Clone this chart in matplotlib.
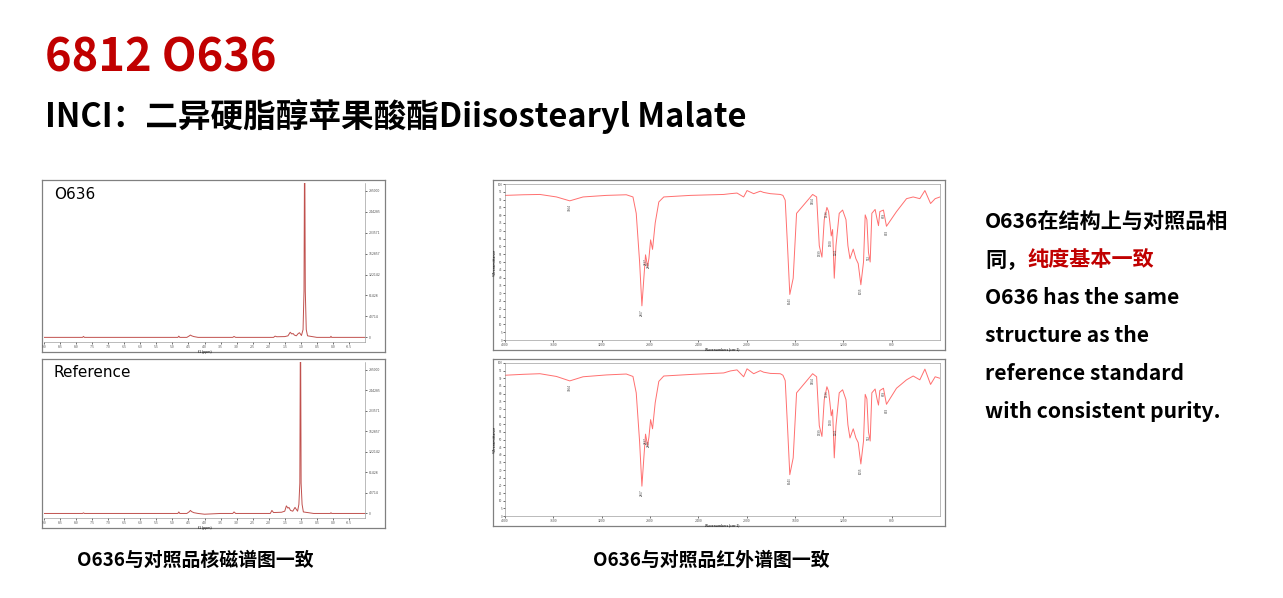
import matplotlib
matplotlib.use("Agg")
import matplotlib.pyplot as plt
import numpy as np

W, H = 1283, 598
FONT = ['Noto Sans CJK SC', 'DejaVu Sans']
plt.rcParams['font.family'] = FONT

title = "6812 O636"
subtitle = "INCI：二异硬脂醇苹果酸酯Diisostearyl Malate"
nmr_caption = "O636与对照品核磁谱图一致"
ir_caption = "O636与对照品红外谱图一致"
right_lines = [("O636在结构上与对照品相", "k"), ("同，", "k"), ("纯度基本一致", "#C00000"),
               ("O636 has the same", "k"), ("structure as the", "k"),
               ("reference standard", "k"), ("with consistent purity.", "k")]

# NMR spectra (ppm, relative intensity)
nmr_sample_ppm = [9.0, 7.80, 7.77, 7.74, 5.0, 4.83, 4.80, 4.77, 4.55, 4.47, 4.44, 4.40, 4.33, 4.2, 3.5, 3.12, 3.08, 3.03, 2.2,
                  1.85, 1.80, 1.75, 1.5, 1.40, 1.33, 1.28, 1.24, 1.20, 1.14, 1.08, 1.04, 0.98, 0.93, 0.90, 0.88, 0.86, 0.83, 0.79, 0.5, 0.08, 0.06, 0.04, -1.0]
nmr_sample_int = [0.0, 0.0, 0.006, 0.0, 0.0, 0.0, 0.008, 0.0, 0.0, 0.01, 0.015, 0.01, 0.005, 0.0, 0.0, 0.0, 0.006, 0.0, 0.0,
                  0.0, 0.008, 0.004, 0.005, 0.01, 0.033, 0.022, 0.025, 0.015, 0.01, 0.025, 0.03, 0.012, 0.05, 0.3, 1.4, 0.3, 0.05, 0.01, 0.0, 0.0, 0.007, 0.0, 0.0]
nmr_ref_ppm = [9.0, 7.80, 7.77, 7.74, 5.0, 4.83, 4.80, 4.77, 4.55, 4.47, 4.44, 4.40, 4.33, 4.2, 4.0, 3.5, 3.12, 3.08, 3.03, 2.2,
               1.95, 1.90, 1.85, 1.6, 1.50, 1.45, 1.40, 1.37, 1.32, 1.25, 1.18, 1.15, 1.10, 1.06, 1.03, 1.01, 0.99, 0.96, 0.92, 0.6, 0.08, 0.06, 0.04, -1.0]
nmr_ref_int = [0.0, 0.0, 0.004, 0.0, 0.0, 0.0, 0.01, 0.0, 0.0, 0.012, 0.02, 0.012, 0.005, 0.0, -0.005, 0.0, 0.0, 0.01, 0.0, 0.0,
               0.0, 0.02, 0.006, 0.008, 0.015, 0.05, 0.035, 0.04, 0.02, 0.015, 0.04, 0.03, 0.015, 0.06, 0.2, 1.4, 0.2, 0.06, 0.01, 0.0, 0.0, 0.005, 0.0, 0.0]
nmr_ticks = [9.0, 8.5, 8.0, 7.5, 7.0, 6.5, 6.0, 5.5, 5.0, 4.5, 4.0, 3.5, 3.0, 2.5, 2.0, 1.5, 1.0, 0.5, 0.0, -0.5]

# IR spectra (wavenumber cm-1, %T)
ir_wn = [4000, 3849, 3711, 3574, 3464, 3354, 3161, 2996, 2941, 2914, 2886, 2867, 2851, 2837, 2820, 2809, 2795, 2779,
         2757, 2727, 2686, 2466, 2190, 2135, 2080, 2025, 1997, 1942, 1887, 1860, 1804, 1722, 1700, 1681, 1662, 1643,
         1615, 1587, 1454, 1421, 1399, 1377, 1358, 1336, 1322, 1311, 1300, 1289, 1275, 1261, 1234, 1206, 1178, 1162,
         1145, 1118, 1096, 1077, 1055, 1033, 1019, 1005, 992, 978, 964, 937, 920, 909, 898, 868, 843, 760, 677, 622, 567, 525, 478, 440, 400]
ir_sample_T = [92.7, 93.1, 93.3, 91.7, 89.2, 91.7, 92.7, 93.1, 91.7, 81.2, 50.0, 21.9, 39.6, 54.6, 47.1, 52.3, 64.2, 58.1,
               75.0, 88.5, 91.7, 92.7, 93.3, 93.8, 94.2, 91.7, 95.8, 93.8, 95.4, 94.6, 93.8, 93.3, 92.7, 89.6, 60.4, 29.2,
               39.6, 81.2, 93.3, 91.7, 60.4, 53.1, 77.1, 85.0, 82.3, 75.0, 66.7, 70.8, 39.6, 60.4, 81.2, 83.3, 77.1, 60.4,
               52.1, 58.3, 52.1, 49.0, 35.4, 50.0, 80.2, 77.1, 56.2, 50.0, 81.2, 83.7, 77.1, 73.3, 82.3, 83.3, 72.9, 82.3, 90.6, 91.7, 90.6, 95.8, 87.5, 90.6, 91.7]
ir_ref_T = [92.0, 92.6, 93.0, 91.2, 88.3, 91.0, 92.2, 92.8, 91.2, 80.5, 48.5, 19.5, 38.0, 53.5, 46.0, 51.5, 63.0, 57.0,
            74.0, 88.0, 91.5, 92.5, 93.5, 94.8, 95.5, 91.0, 96.2, 93.0, 95.0, 94.0, 93.2, 93.0, 92.0, 88.5, 58.5, 27.0,
            38.0, 80.5, 93.0, 91.0, 59.0, 52.0, 76.0, 84.5, 81.5, 74.0, 65.5, 69.5, 38.0, 59.0, 80.5, 82.5, 76.0, 59.5,
            51.0, 57.0, 51.0, 48.0, 34.0, 49.0, 79.5, 76.5, 55.0, 49.0, 80.5, 83.0, 76.0, 72.5, 82.0, 83.5, 73.0, 83.5, 89.0, 91.5, 89.0, 96.0, 86.0, 91.0, 90.0]
ir_labels_wn = [3464, 2867, 2837, 2809, 1643, 1454, 1399, 1336, 1300, 1261, 1055, 992, 868, 843]
ir_ticks = [4000, 3600, 3200, 2800, 2400, 2000, 1600, 1200, 800]

fig = plt.figure(figsize=(W / 100, H / 100), dpi=100)
fig.patch.set_facecolor("white")

def px(x, y):
    return x / W, 1 - y / H

def add_ax(x0, y0, x1, y1):
    return fig.add_axes([x0 / W, 1 - y1 / H, (x1 - x0) / W, (y1 - y0) / H])

def frame(x0, y0, x1, y1):
    a = add_ax(x0, y0, x1, y1)
    a.set_xticks([]); a.set_yticks([])
    for s in a.spines.values():
        s.set_color("#808080"); s.set_linewidth(0.9)
    a.patch.set_alpha(0)
    return a

fig.text(*px(45, 58), title, color="#C00000", fontsize=32.5, fontweight="bold", va="center", ha="left")
fig.text(*px(45, 116), subtitle, color="black", fontsize=23.5, fontweight="bold", va="center", ha="left")

# NMR panels
for (y0, y1, label, ppm, inten) in [(180, 352, "O636", nmr_sample_ppm, nmr_sample_int),
                                     (359, 528, "Reference", nmr_ref_ppm, nmr_ref_int)]:
    frame(42, y0, 385, y1)
    ax = add_ax(44, y0 + 3, 365, y1 - 10)
    ax.plot(ppm, inten, color="#C0504D", lw=0.7)
    ax.set_xlim(9.0, -1.0)
    ax.set_ylim(-0.03, 1.0)
    ax.set_xticks(nmr_ticks)
    ax.set_xticklabels([f"{t:.1f}" for t in nmr_ticks], fontsize=2.5, color="#555")
    ax.yaxis.tick_right()
    yt = np.linspace(0, 0.95, 8)
    ax.set_yticks(yt)
    ax.set_yticklabels([str(int(v * 300000)) for v in yt], fontsize=2.5, color="#555")
    ax.tick_params(length=1.5, width=0.4, pad=1)
    for s in ["top", "left"]:
        ax.spines[s].set_visible(False)
    for s in ["bottom", "right"]:
        ax.spines[s].set_linewidth(0.4); ax.spines[s].set_color("#888")
    ax.set_xlabel("f1 (ppm)", fontsize=2.5, labelpad=0.5)
    ax.text(0.03, 0.93, label, transform=ax.transAxes, fontsize=11, va="center", family=["DejaVu Sans"])

# IR panels
for (y0, y1, T) in [(180, 350, ir_sample_T), (359, 526, ir_ref_T)]:
    frame(493, y0, 945, y1)
    ax = add_ax(505, y0 + 4, 940, y1 - 10)
    ax.plot(ir_wn, T, color="#FF6F6F", lw=0.7)
    ax.set_xlim(4000, 400)
    ax.set_ylim(0, 100)
    ax.set_xticks(ir_ticks)
    ax.set_xticklabels([str(t) for t in ir_ticks], fontsize=2.5, color="#555")
    ax.set_yticks(np.arange(0, 101, 5))
    ax.set_yticklabels([str(v) for v in range(0, 101, 5)], fontsize=2.2, color="#555")
    ax.tick_params(length=1.2, width=0.4, pad=0.8)
    for s in ax.spines.values():
        s.set_linewidth(0.4); s.set_color("#888")
    ax.set_xlabel("Wavenumbers (cm-1)", fontsize=2.5, labelpad=0.5)
    ax.set_ylabel("%Transmittance", fontsize=2.5, labelpad=0.5)
    for w in ir_labels_wn:
        t = float(np.interp(-w, [-v for v in ir_wn], T))
        ax.text(w, t - 2, str(w), rotation=90, fontsize=2.2, ha="center", va="top", color="#444")

# right text
fs = 15.2
fig.text(*px(985, 222), right_lines[0][0], fontsize=fs, fontweight="bold", va="center")
fig.text(*px(985, 260), right_lines[1][0], fontsize=fs, fontweight="bold", va="center")
fig.text(*px(1028, 260), right_lines[2][0], fontsize=fs, fontweight="bold", va="center", color="#C00000")
for (txt, c), y in zip(right_lines[3:], [298, 336, 374, 412]):
    fig.text(*px(985, y), txt, fontsize=fs, fontweight="bold", va="center", color=c)

fig.text(*px(195, 560), nmr_caption, fontsize=13.6, fontweight="bold", ha="center", va="center")
fig.text(*px(711, 560), ir_caption, fontsize=13.6, fontweight="bold", ha="center", va="center")

fig.savefig("out.png", dpi=100)
